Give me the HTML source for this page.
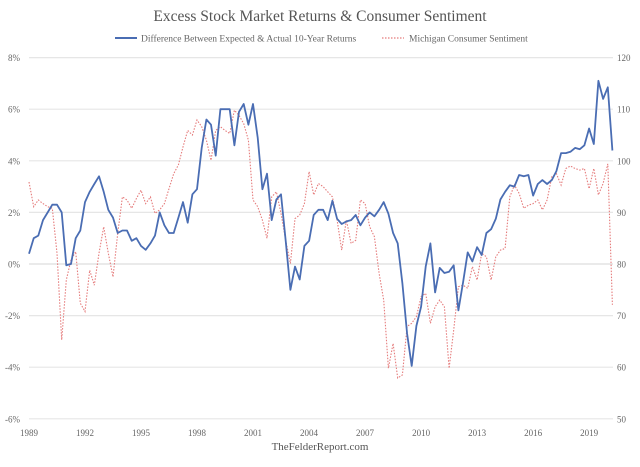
<!DOCTYPE html>
<html><head><meta charset="utf-8">
<style>
body{margin:0;background:#fff;}
svg text{font-family:"Liberation Serif",serif;fill:#666;}
</style></head>
<body>
<svg id="chart" width="640" height="462" xmlns="http://www.w3.org/2000/svg">
<text x="320" y="21" text-anchor="middle" font-size="15.5" style="fill:#555">Excess Stock Market Returns &amp; Consumer Sentiment</text>
<g>
<line x1="115" y1="38" x2="137" y2="38" stroke="#4a6db3" stroke-width="2"/>
<text x="141" y="41.5" font-size="9.5">Difference Between Expected &amp; Actual 10-Year Returns</text>
<line x1="382" y1="38" x2="404" y2="38" stroke="#e57c7c" stroke-width="1.2" stroke-dasharray="1.5,1.5"/>
<text x="409" y="41.5" font-size="9.5">Michigan Consumer Sentiment</text>
</g>
<g id="grid"></g><g id="axes"></g><g id="series"></g>
<text x="320" y="450" text-anchor="middle" font-size="11" style="fill:#555">TheFelderReport.com</text>
</svg>
<script>
const yearTicks=[1989,1992,1995,1998,2001,2004,2007,2010,2013,2016,2019];
const leftTicks=[-6,-4,-2,0,2,4,6,8];
const rightTicks=[50,60,70,80,90,100,110,120];
const startYear=1989;
const returnsPct=[0.4,1.0,1.1,1.7, 2.0,2.3,2.3,2.0, -0.05,0.0,1.0,1.3, 2.4,2.8,3.1,3.4, 2.8,2.1,1.8,1.2, 1.3,1.3,0.9,1.0, 0.7,0.55,0.8,1.1, 2.0,1.5,1.2,1.2, 1.8,2.4,1.6,2.7, 2.9,4.5,5.6,5.4, 4.2,6.0,6.0,6.0, 4.6,5.9,6.2,5.4, 6.2,4.9,2.9,3.5, 1.7,2.5,2.7,0.9, -1.0,-0.1,-0.6,0.7, 0.9,1.9,2.1,2.1, 1.7,2.45,1.75,1.55, 1.65,1.7,1.9,1.5, 1.8,2.0,1.85,2.1, 2.4,1.95,1.2,0.8, -0.75,-2.7,-3.95,-2.4, -1.65,-0.1,0.8,-1.1, -0.15,-0.35,-0.3,-0.05, -1.8,-0.7,0.45,0.1, 0.65,0.35,1.2,1.35, 1.75,2.5,2.8,3.05, 3.0,3.45,3.4,3.45, 2.65,3.1,3.25,3.1, 3.25,3.6,4.3,4.3, 4.35,4.5,4.45,4.6, 5.25,4.65,7.1,6.4, 6.85,4.4];
const sentiment=[95.9,91.1,92.4,91.7, 91.1,90.8,82.1,65.3, 76.9,80.8,82.4,72.4, 70.8,78.8,75.9,82.1, 87.2,82.1,77.5,85.9, 93.0,92.4,90.8,92.7, 94.3,91.7,93.0,89.8, 90.5,91.7,94.6,97.5, 99.2,102.7,105.9,105.0, 107.9,106.6,104.0,100.1, 105.9,106.6,105.9,105.3, 109.8,108.8,107.2,104.0, 92.4,91.1,88.5,85.0, 93.0,94.0,89.8,84.6, 80.1,88.8,89.5,91.7, 97.9,93.4,95.6,95.0, 94.0,93.0,88.5,82.7, 88.5,84.0,84.6,92.4, 91.7,87.2,85.3,78.2, 73.0,59.8,64.6,57.9, 58.5,67.9,68.5,69.8, 73.7,74.3,68.5,71.7, 73.0,71.7,59.8,67.2, 75.6,75.9,75.3,79.5, 76.9,82.1,81.4,76.9, 81.4,82.7,83.0,93.0, 95.3,93.7,90.8,91.4, 91.7,92.4,90.5,92.4, 96.9,97.5,95.3,98.5, 99.0,98.5,98.2,98.5, 94.6,98.5,93.4,95.6, 99.4,72.1];
const NS="http://www.w3.org/2000/svg";
const X0=29,PX_PER_YEAR=18.67,Y0=264,PX_PER_PCT=25.8;
const xs=y=>X0+(y-startYear)*PX_PER_YEAR;
const yl=v=>Y0-v*PX_PER_PCT;
const yr=v=>yl((v-80)/5);
function mk(tag,attrs,parent){const e=document.createElementNS(NS,tag);for(const k in attrs)e.setAttribute(k,attrs[k]);parent.appendChild(e);return e;}
const grid=document.getElementById('grid'),axes=document.getElementById('axes'),ser=document.getElementById('series');
leftTicks.forEach((t,i)=>{
 const g=mk('line',{x1:X0,x2:613,y1:yl(t),y2:yl(t),stroke:t===0?'#ddd':'#e6e6e6','stroke-width':1.2},grid);
 
 
 const l=mk('text',{x:20,y:yl(t)+3.5,'text-anchor':'end','font-size':9},axes);l.textContent=t+'%';
 
 
});
rightTicks.forEach(t=>{
 const l=mk('text',{x:617,y:yr(t)+3.5,'font-size':9},axes);l.textContent=t;
 
 
});
yearTicks.forEach(t=>{
 const l=mk('text',{x:xs(t),y:436,'text-anchor':'middle','font-size':9},axes);l.textContent=t;
 
 
});
const ptsS=sentiment.map((v,i)=>xs(startYear+i*0.25).toFixed(1)+','+yr(v).toFixed(1)).join(' ');
const s=mk('polyline',{points:ptsS,fill:'none',stroke:'#e57c7c','stroke-width':1.1,'stroke-dasharray':'1.5,1.5'},ser);


const ptsR=returnsPct.map((v,i)=>xs(startYear+i*0.25).toFixed(1)+','+yl(v).toFixed(1)).join(' ');
const r=mk('polyline',{points:ptsR,fill:'none',stroke:'#4a6db3','stroke-width':1.8,'stroke-linejoin':'round'},ser);


</script>
</body></html>
